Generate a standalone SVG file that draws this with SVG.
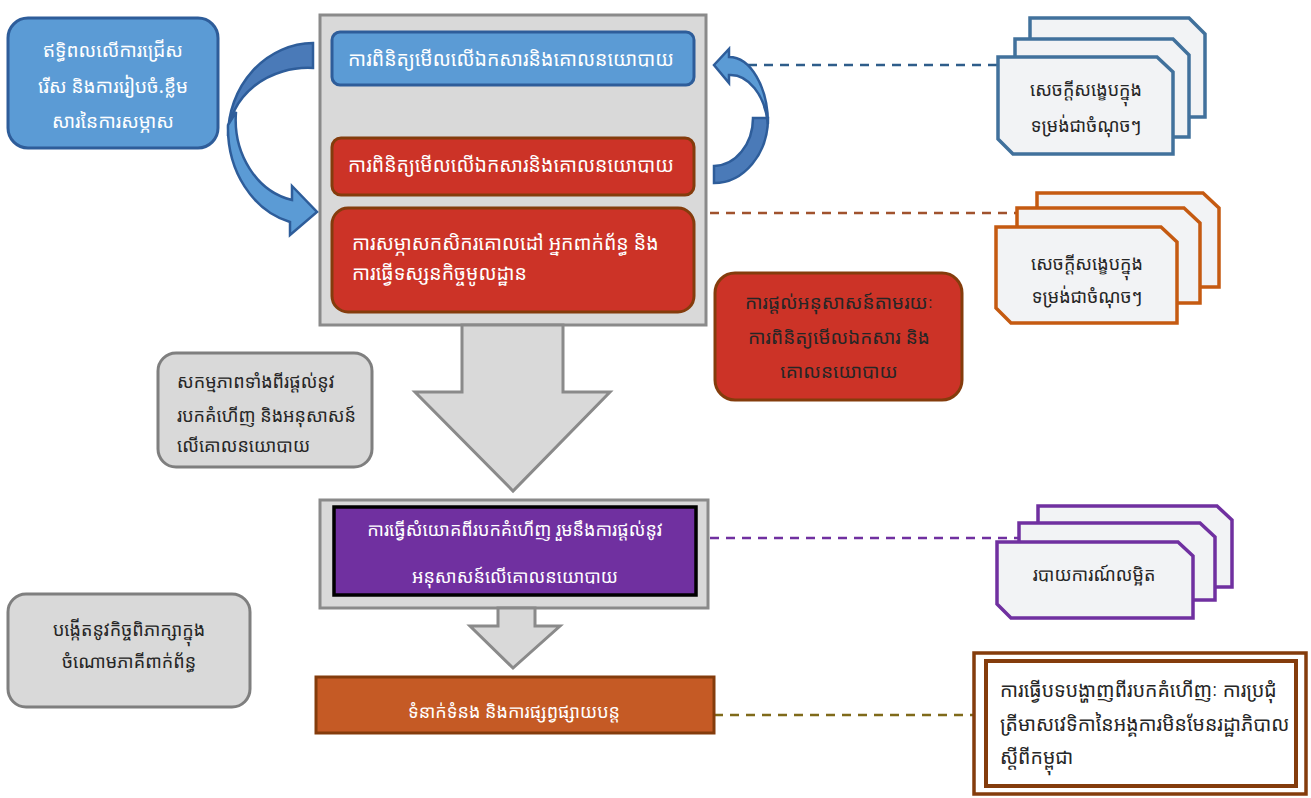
<svg xmlns="http://www.w3.org/2000/svg" width="1311" height="798" viewBox="0 0 1311 798">
<style>
text{font-family:"Noto Sans Khmer","Khmer OS","Noto Sans","DejaVu Sans",sans-serif;font-size:18px;stroke:none}
.w{fill:#ffffff}
.d{fill:#262626}
.c{text-anchor:middle}
.big{font-size:19.5px}
.mid{font-size:19px}
.blue{fill:#5b9bd5;stroke:#2e5d9a;stroke-width:3}
.red{fill:#cc3327;stroke:#843c0c;stroke-width:3}
.grey{fill:#d9d9d9;stroke:#8a8a8a;stroke-width:3}
.greyn{fill:#d9d9d9;stroke:#7f7f7f;stroke-width:3}
.card{fill:#f2f3f5;stroke-width:3.5}
.cb{stroke:#41719c}
.co{stroke:#c55a11}
.cp{stroke:#7030a0}
.dash{fill:none;stroke-width:2.5;stroke-dasharray:9 7}
</style>
<g id="container-top"><rect x="320" y="15" width="386" height="310" class="grey"/></g>
<g id="big-arrow"><path d="M462,325 L563,325 L563,392 L610,392 L513,491 L415,392 L462,392 Z" class="grey"/></g>
<g id="container-mid"><rect x="320" y="500" width="388" height="108" class="grey"/></g>
<g id="small-arrow"><path d="M498,608 L535,608 L535,626 L560,626 L513,668 L470,626 L498,626 Z" class="grey"/></g>

<g id="connectors">
<line x1="716" y1="65" x2="1003" y2="65" class="dash" stroke="#2e5d8a"/>
<line x1="710" y1="213" x2="1017" y2="213" class="dash" stroke="#a0522d"/>
<line x1="710" y1="538" x2="1019" y2="538" class="dash" stroke="#7030a0"/>
<line x1="714" y1="715" x2="973" y2="715" class="dash" stroke="#7f6a1a"/>
</g>

<g id="curved-arrow-left">
<path d="M313,43 A86 93 0 0 0 228,136 A80 70 0 0 1 313,68 Z" fill="#4a7ab8" stroke="#2e5d9a" stroke-width="2.5"/>
<path d="M228,125 A82 97 0 0 0 290,222 L290,235 L317,212 L292,186 L292,200 A70 82 0 0 1 236,112 Z" fill="#5b9bd5" stroke="#2e5d9a" stroke-width="2.5"/>
</g>
<g id="curved-arrow-right">
<path d="M768,118 A54 65 0 0 1 714,183 L714,166 A40 48 0 0 0 753,118 Z" fill="#4a7ab8" stroke="#2e5d9a" stroke-width="2.5"/>
<path d="M714,65 L729,49 L729,57 A39 67 0 0 1 768,124 A38 58 0 0 0 729,75 L729,83 Z" fill="#5b9bd5" stroke="#2e5d9a" stroke-width="2.5"/>
</g>

<g id="node-influence">
<rect x="8" y="18" width="210" height="130" rx="20" class="blue"/>
<text class="w c mid" x="113" y="57">ឥទ្ធិពលលើការជ្រើស</text>
<text class="w c mid" x="113" y="93">រើស និងការរៀបចំ.ខ្លឹម</text>
<text class="w c mid" x="113" y="128">សារនៃការសម្ភាស</text>
</g>
<g id="node-review-blue">
<rect x="332" y="32" width="362" height="53" rx="8" class="blue"/>
<text class="w c big" x="511" y="66">ការពិនិត្យមើលលើឯកសារនិងគោលនយោបាយ</text>
</g>
<g id="node-review-red">
<rect x="332" y="138" width="362" height="57" rx="9" class="red"/>
<text class="w c big" x="511" y="172">ការពិនិត្យមើលលើឯកសារនិងគោលនយោបាយ</text>
</g>
<g id="node-interview">
<rect x="332" y="208" width="362" height="104" rx="16" class="red"/>
<text class="w big" x="352" y="250">ការសម្ភាសកសិករគោលដៅ អ្នកពាក់ព័ន្ធ និង</text>
<text class="w big" x="352" y="280">ការធ្វើទស្សនកិច្ចមូលដ្ឋាន</text>
</g>

<g id="card-stack-blue">
<path d="M1030,18 L1189,18 L1205,34 L1205,117 L1030,117 Z" class="card cb"/>
<path d="M1015,39 L1173,39 L1189,55 L1189,137 L1015,137 Z" class="card cb"/>
<path d="M998,57 L1157,57 L1173,72 L1173,154 L1013,154 L998,139 Z" class="card cb"/>
<text class="d c" x="1086" y="96">សេចក្តីសង្ខេបក្នុង</text>
<text class="d c" x="1086" y="132">ទម្រង់ជាចំណុចៗ</text>
</g>
<g id="card-stack-orange">
<path d="M1037,193 L1203,193 L1219,208 L1219,287 L1037,287 Z" class="card co"/>
<path d="M1017,208 L1184,208 L1200,223 L1200,303 L1017,303 Z" class="card co"/>
<path d="M996,227 L1161,227 L1177,242 L1177,323 L1011,323 L996,308 Z" class="card co"/>
<text class="d c" x="1087" y="270">សេចក្តីសង្ខេបក្នុង</text>
<text class="d c" x="1087" y="303">ទម្រង់ជាចំណុចៗ</text>
</g>

<g id="node-activities">
<rect x="158" y="353" width="214" height="114" rx="18" class="greyn"/>
<text class="d" x="177" y="388">សកម្មភាពទាំងពីរផ្តល់នូវ</text>
<text class="d" x="177" y="422">របកគំហើញ និងអនុសាសន៍</text>
<text class="d" x="177" y="452">លើគោលនយោបាយ</text>
</g>
<g id="node-recommend">
<rect x="715" y="273" width="247" height="127" rx="20" class="red"/>
<text class="d c mid" x="839" y="309">ការផ្តល់អនុសាសន៍តាមរយៈ</text>
<text class="d c mid" x="839" y="344">ការពិនិត្យមើលឯកសារ និង</text>
<text class="d c mid" x="839" y="378">គោលនយោបាយ</text>
</g>

<g id="node-synthesis">
<rect x="334" y="507" width="362" height="88" fill="#7030a0" stroke="#000000" stroke-width="3.5"/>
<text class="w c" x="515" y="536">ការធ្វើសំយោគពីរបកគំហើញ រួមនឹងការផ្តល់នូវ</text>
<text class="w c" x="515" y="583">អនុសាសន៍លើគោលនយោបាយ</text>
</g>
<g id="card-stack-purple">
<path d="M1038,506 L1217,506 L1232,520 L1232,587 L1038,587 Z" class="card cp"/>
<path d="M1019,523 L1200,523 L1215,537 L1215,600 L1019,600 Z" class="card cp"/>
<path d="M997,542 L1178,542 L1193,556 L1193,618 L1011,618 L997,604 Z" class="card cp"/>
<text class="d c" x="1094" y="581">របាយការណ៍លម្អិត</text>
</g>

<g id="node-discussion">
<rect x="8" y="594" width="242" height="113" rx="18" class="greyn"/>
<text class="d c" x="129" y="636">បង្កើតនូវកិច្ចពិភាក្សាក្នុង</text>
<text class="d c" x="129" y="668">ចំណោមភាគីពាក់ព័ន្ធ</text>
</g>
<g id="node-communication">
<rect x="316" y="677" width="398" height="56" fill="#c55a25" stroke="#843c0c" stroke-width="3"/>
<text class="w c" x="514" y="718">ទំនាក់ទំនង និងការផ្សព្វផ្សាយបន្ត</text>
</g>
<g id="node-presentation">
<rect x="974" y="653" width="332" height="141" fill="#ffffff" stroke="#843c0c" stroke-width="3.5"/>
<rect x="986" y="661" width="310" height="125" fill="#ffffff" stroke="#843c0c" stroke-width="4"/>
<text class="d big" x="1000" y="697">ការធ្វើបទបង្ហាញពីរបកគំហើញៈ ការប្រជុំ</text>
<text class="d big" x="1000" y="731">ត្រីមាសវេទិកានៃអង្គការមិនមែនរដ្ឋាភិបាល</text>
<text class="d big" x="1000" y="764">ស្តីពីកម្ពុជា</text>
</g>
</svg>
